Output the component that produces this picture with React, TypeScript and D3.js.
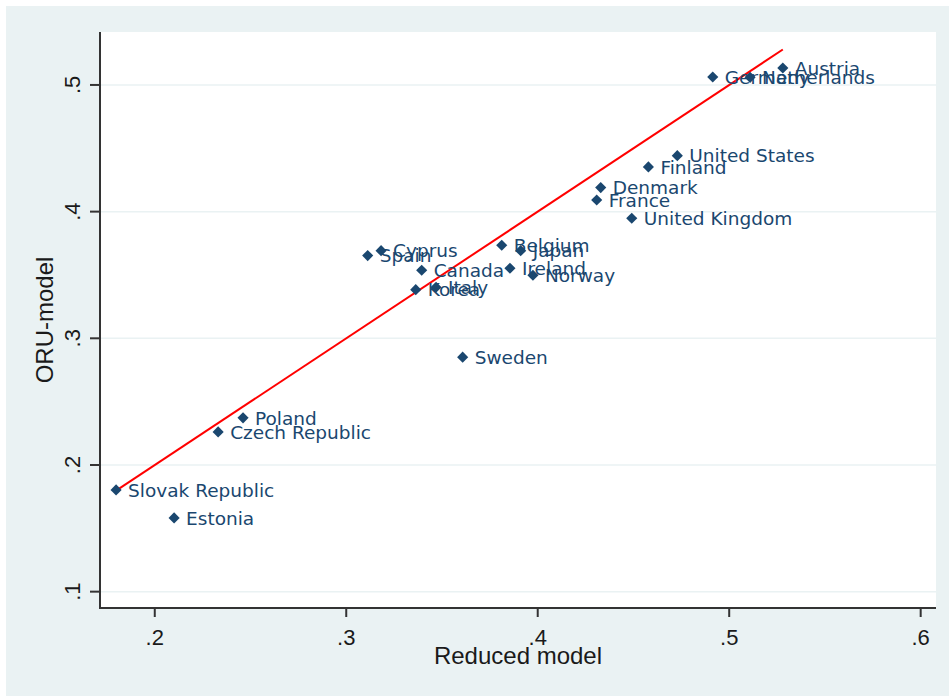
import * as d3 from "d3";
import React from "react";

const countries = [
  "Austria", "Germany", "Netherlands", "United States", "Finland", "Denmark",
  "France", "United Kingdom", "Cyprus", "Spain", "Canada", "Korea", "Italy",
  "Belgium", "Japan", "Ireland", "Norway", "Sweden", "Poland",
  "Czech Republic", "Slovak Republic", "Estonia",
];
const reducedModel = [
  0.528, 0.4914, 0.5109, 0.4729, 0.4578, 0.4329, 0.4308, 0.4491, 0.3182, 0.3112,
  0.3394, 0.3363, 0.3469, 0.3812, 0.3911, 0.3855, 0.3975, 0.3608, 0.2461, 0.2331,
  0.1798, 0.2101,
];
const oruModel = [
  0.5134, 0.5063, 0.506, 0.4442, 0.4353, 0.419, 0.4092, 0.3948, 0.3692, 0.3653,
  0.3537, 0.3384, 0.3403, 0.3735, 0.3692, 0.3553, 0.3498, 0.2851, 0.2372, 0.2261,
  0.1803, 0.1582,
];
const xTicks = [0.2, 0.3, 0.4, 0.5, 0.6];
const yTicks = [0.1, 0.2, 0.3, 0.4, 0.5];
const xRange = [0.1714, 0.608];
const yRange = [0.0871, 0.5418];

const W = 949;
const H = 696;
const margin = { top: 32, right: 13, bottom: 88, left: 100 };
const navy = "#1a476f";
const bg = "#eaf2f3";

const fmt = (v: number) => d3.format(".1f")(v).replace(/^0/, "");

export default function App() {
  const x = d3.scaleLinear().domain(xRange).range([margin.left, W - margin.right]);
  const y = d3.scaleLinear().domain(yRange).range([H - margin.bottom, margin.top]);
  const diamond = d3.symbol(d3.symbolSquare, 62)();
  const [lo, hi] = d3.extent(reducedModel) as [number, number];
  // 45-degree reference line over the data range
  const line = d3.line<number>().x((v) => x(v)).y((v) => y(v));
  const axisFont = "'Liberation Sans', Arial, sans-serif";
  const x0 = margin.left;
  const x1 = W - margin.right;
  const y0 = H - margin.bottom;
  const y1 = margin.top;

  return (
    <svg width={W} height={H} style={{ position: "absolute", left: 0, top: 0 }}>
      <rect x={0} y={0} width={W} height={H} fill="#fff" />
      <rect x={6} y={6} width={W - 6} height={H - 6} fill={bg} />
      <rect x={x0} y={y1} width={x1 - x0} height={y0 - y1} fill="#fff" />
      {yTicks.map((t) => (
        <line key={"g" + t} x1={x0} x2={x1} y1={y(t)} y2={y(t)} stroke={bg} strokeWidth={1.5} />
      ))}
      <path d={line([lo, hi]) ?? ""} stroke="#ff0000" strokeWidth={2} fill="none" />
      {countries.map((c, i) => (
        <g key={c} transform={`translate(${x(reducedModel[i])},${y(oruModel[i])})`}>
          <path d={diamond ?? ""} transform="rotate(45)" fill={navy} />
          <text
            x={12}
            dy="0.36em"
            fill={navy}
            fontSize={18.5}
            fontFamily="'DejaVu Sans', Verdana, sans-serif"
          >
            {c}
          </text>
        </g>
      ))}
      <line x1={x0} x2={x0} y1={y1} y2={y0 + 1} stroke="#333" strokeWidth={2} />
      <line x1={x0 - 1} x2={x1} y1={y0} y2={y0} stroke="#333" strokeWidth={2} />
      {xTicks.map((t) => (
        <g key={"x" + t}>
          <line x1={x(t)} x2={x(t)} y1={y0} y2={y0 + 9} stroke="#333" strokeWidth={2} />
          <text x={x(t)} y={645} textAnchor="middle" fontSize={22} fontFamily={axisFont} fill="#1a1a1a">
            {fmt(t)}
          </text>
        </g>
      ))}
      {yTicks.map((t) => (
        <g key={"y" + t}>
          <line x1={x0 - 10} x2={x0} y1={y(t)} y2={y(t)} stroke="#333" strokeWidth={2} />
          <text
            transform={`translate(80,${y(t)}) rotate(-90)`}
            textAnchor="middle"
            fontSize={22}
            fontFamily={axisFont}
            fill="#1a1a1a"
          >
            {fmt(t)}
          </text>
        </g>
      ))}
      <text x={(x0 + x1) / 2} y={664} textAnchor="middle" fontSize={24} fontFamily={axisFont} fill="#1a1a1a">
        Reduced model
      </text>
      <text
        transform={`translate(53,${(y0 + y1) / 2}) rotate(-90)`}
        textAnchor="middle"
        fontSize={24}
        fontFamily={axisFont}
        fill="#1a1a1a"
      >
        ORU-model
      </text>
    </svg>
  );
}
